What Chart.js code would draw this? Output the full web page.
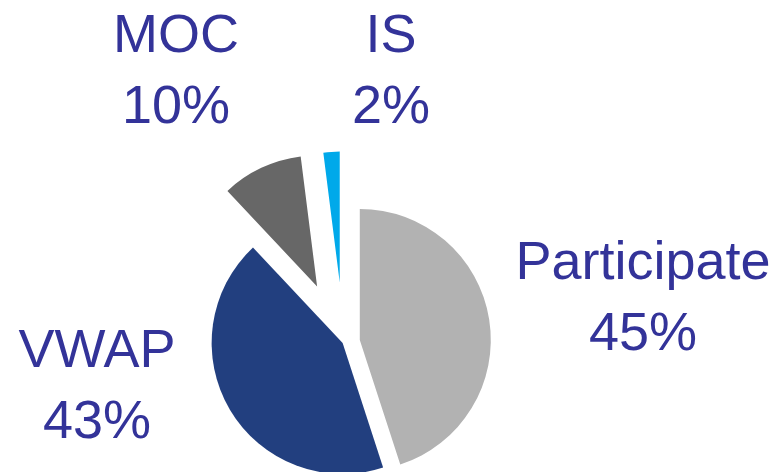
<!DOCTYPE html>
<html>
<head>
<meta charset="utf-8">
<script src="https://cdn.jsdelivr.net/npm/chart.js@4/dist/chart.umd.min.js"></script>
<style>
    html, body { margin: 0; padding: 0; background: #fff; }
    #wrap { width: 784px; height: 472px; position: relative; }
</style>
</head>
<body>
<div id="wrap"><canvas id="mix"></canvas></div>
<script>
const sliceLabels = ['Participate', 'VWAP', 'MOC', 'IS'];
const sliceShares = [45, 43, 10, 2];
const sliceColors = ['#B2B2B2', '#223F7F', '#676767', '#00A9EA'];

// how far each wedge is pulled out from the centre, px
const explode = [16.5, 1, 62, 60];
// label block anchor relative to the pie centre: [dx, dy of first baseline]
const labelShift = [[299.5, -63.5], [-246.5, 24.5], [-167.5, -290.5], [47.5, -290.5]];
const labelFont = '54px "Liberation Sans", Arial, sans-serif';
const labelLineHeight = 71;
const labelColor = '#333399';

// Draw wedges ourselves so the pull-out is a pure translation (no radius growth)
const explodedPie = {
    id: 'explodedPie',
    beforeDatasetDraw(chart, args) {
        const ctx = chart.ctx;
        const arcs = args.meta.data;
        arcs.forEach((arc, i) => {
            const mid = (arc.startAngle + arc.endAngle) / 2;
            const d = explode[i] || 0;
            ctx.save();
            ctx.translate(Math.cos(mid) * d, Math.sin(mid) * d);
            arc.draw(ctx);
            ctx.restore();
        });
        return false;
    },
};

const sliceText = {
    id: 'sliceText',
    afterDatasetsDraw(chart) {
        const ctx = chart.ctx;
        const arcs = chart.getDatasetMeta(0).data;
        ctx.save();
        ctx.font = labelFont;
        ctx.fillStyle = labelColor;
        ctx.textAlign = 'center';
        ctx.textBaseline = 'alphabetic';
        arcs.forEach((arc, i) => {
            const [dx, dy] = labelShift[i];
            const x = arc.x + dx;
            const y = arc.y + dy;
            ctx.fillText(sliceLabels[i], x, y);
            ctx.fillText(sliceShares[i] + '%', x, y + labelLineHeight);
        });
        ctx.restore();
    },
};

new Chart(document.getElementById('mix'), {
    type: 'pie',
    data: {
        labels: sliceLabels,
        datasets: [
            {
                data: sliceShares,
                backgroundColor: sliceColors,
                borderWidth: 0,
                offset: 0,
                hoverOffset: 0,
                radius: 131,
            },
        ],
    },
    options: {
        responsive: true,
        maintainAspectRatio: false,
        animation: false,
        events: [],
        layout: { padding: { left: 0, right: 97, top: 213, bottom: 0 } },
        plugins: {
            legend: { display: false },
            tooltip: { enabled: false },
        },
    },
    plugins: [explodedPie, sliceText],
});
</script>
</body>
</html>
